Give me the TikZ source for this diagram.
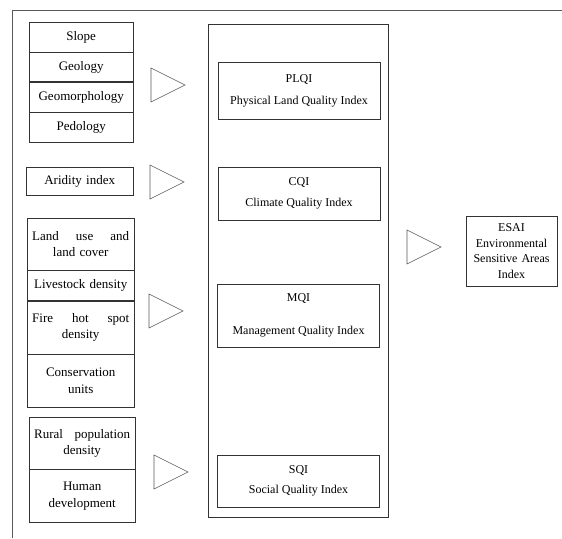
\documentclass[tikz,border=0pt]{standalone}
\usepackage{fontspec}
\setmainfont{Liberation Serif}
\usetikzlibrary{positioning}
\tikzset{cell/.style={draw=black!80, align=center, inner xsep=5pt, inner ysep=1pt, font=\fontsize{13}{16.5}\selectfont},
         index/.style={draw=black!80, align=center, minimum width=162pt, font=\fontsize{12}{14}\selectfont},
         marker/.style={draw=black!65, line width=0.6pt}}

\begin{document}
\begin{tikzpicture}[x=1pt,y=-1pt]
                        \useasboundingbox (0,0) rectangle (562,538);
                        % outer frame
                        \draw[black!65] (12,538) -- (12,10) -- (562,10);

                        % physical inputs
                        \node[cell, text width=94pt, minimum height=30pt, anchor=north west] (slope) at (29,22) {Slope};
                        \node[cell, text width=94pt, minimum height=29pt, below=0pt of slope] (geology) {Geology};
                        \node[cell, text width=94pt, minimum height=30pt, below=0pt of geology] (geomorph) {Geomorphology};
                        \node[cell, text width=94pt, minimum height=30pt, below=0pt of geomorph] (pedology) {Pedology};

                        % climate input
                        \node[cell, text width=97pt, minimum height=28pt, anchor=north west] (aridity) at (26,167) {Aridity index};

                        % management inputs
                        \node[cell, text width=97pt, minimum height=52pt, anchor=north west] (landuse) at (27,218) {Land\hfill use\hfill and\\land cover};
                        \node[cell, text width=97pt, minimum height=30pt, below=0pt of landuse] (livestock) {Livestock density};
                        \node[cell, text width=97pt, minimum height=53pt, below=0pt of livestock] (firespot) {Fire\hfill hot\hfill spot\\density};
                        \node[cell, text width=97pt, minimum height=53pt, below=0pt of firespot] (conserv) {Conservation\\units};

                        % social inputs
                        \node[cell, text width=96pt, minimum height=52pt, anchor=north west] (rural) at (29,417) {Rural\hfill population\\density};
                        \node[cell, text width=96pt, minimum height=53pt, below=0pt of rural] (human) {Human\\development};

                        % quality indices
                        \node[draw=black!80, minimum width=180pt, minimum height=493pt, anchor=north west] (qibox) at (208,24) {};
                        \node[index, minimum height=57pt] (plqi) at (299,90.5) {PLQI\\[8pt]Physical Land Quality Index};
                        \node[index, minimum height=53pt] (cqi) at (299,193.5) {CQI\\[7pt]Climate Quality Index};
                        \node[index, minimum height=63pt] (mqi) at (298.5,315.5) {MQI\\[19pt]Management Quality Index};
                        \node[index, minimum height=52pt] (sqi) at (298.5,481) {SQI\\[6pt]Social Quality Index};

                        % final index
                        \node[index, minimum width=91pt, minimum height=70pt, text width=84pt, inner xsep=3pt, font=\fontsize{12}{15.5}\selectfont] (esai) at (511.5,251) {ESAI\\Environmental\\Sensitive Areas\\Index};

                        % triangles
                        \foreach \x/\y in {151/85, 150/182, 149/311, 154/472, 407/247}
                            \draw[marker] (\x,\y-17) -- ++(34,17) -- ++(-34,17) -- cycle;
                    \end{tikzpicture}
\end{document}
